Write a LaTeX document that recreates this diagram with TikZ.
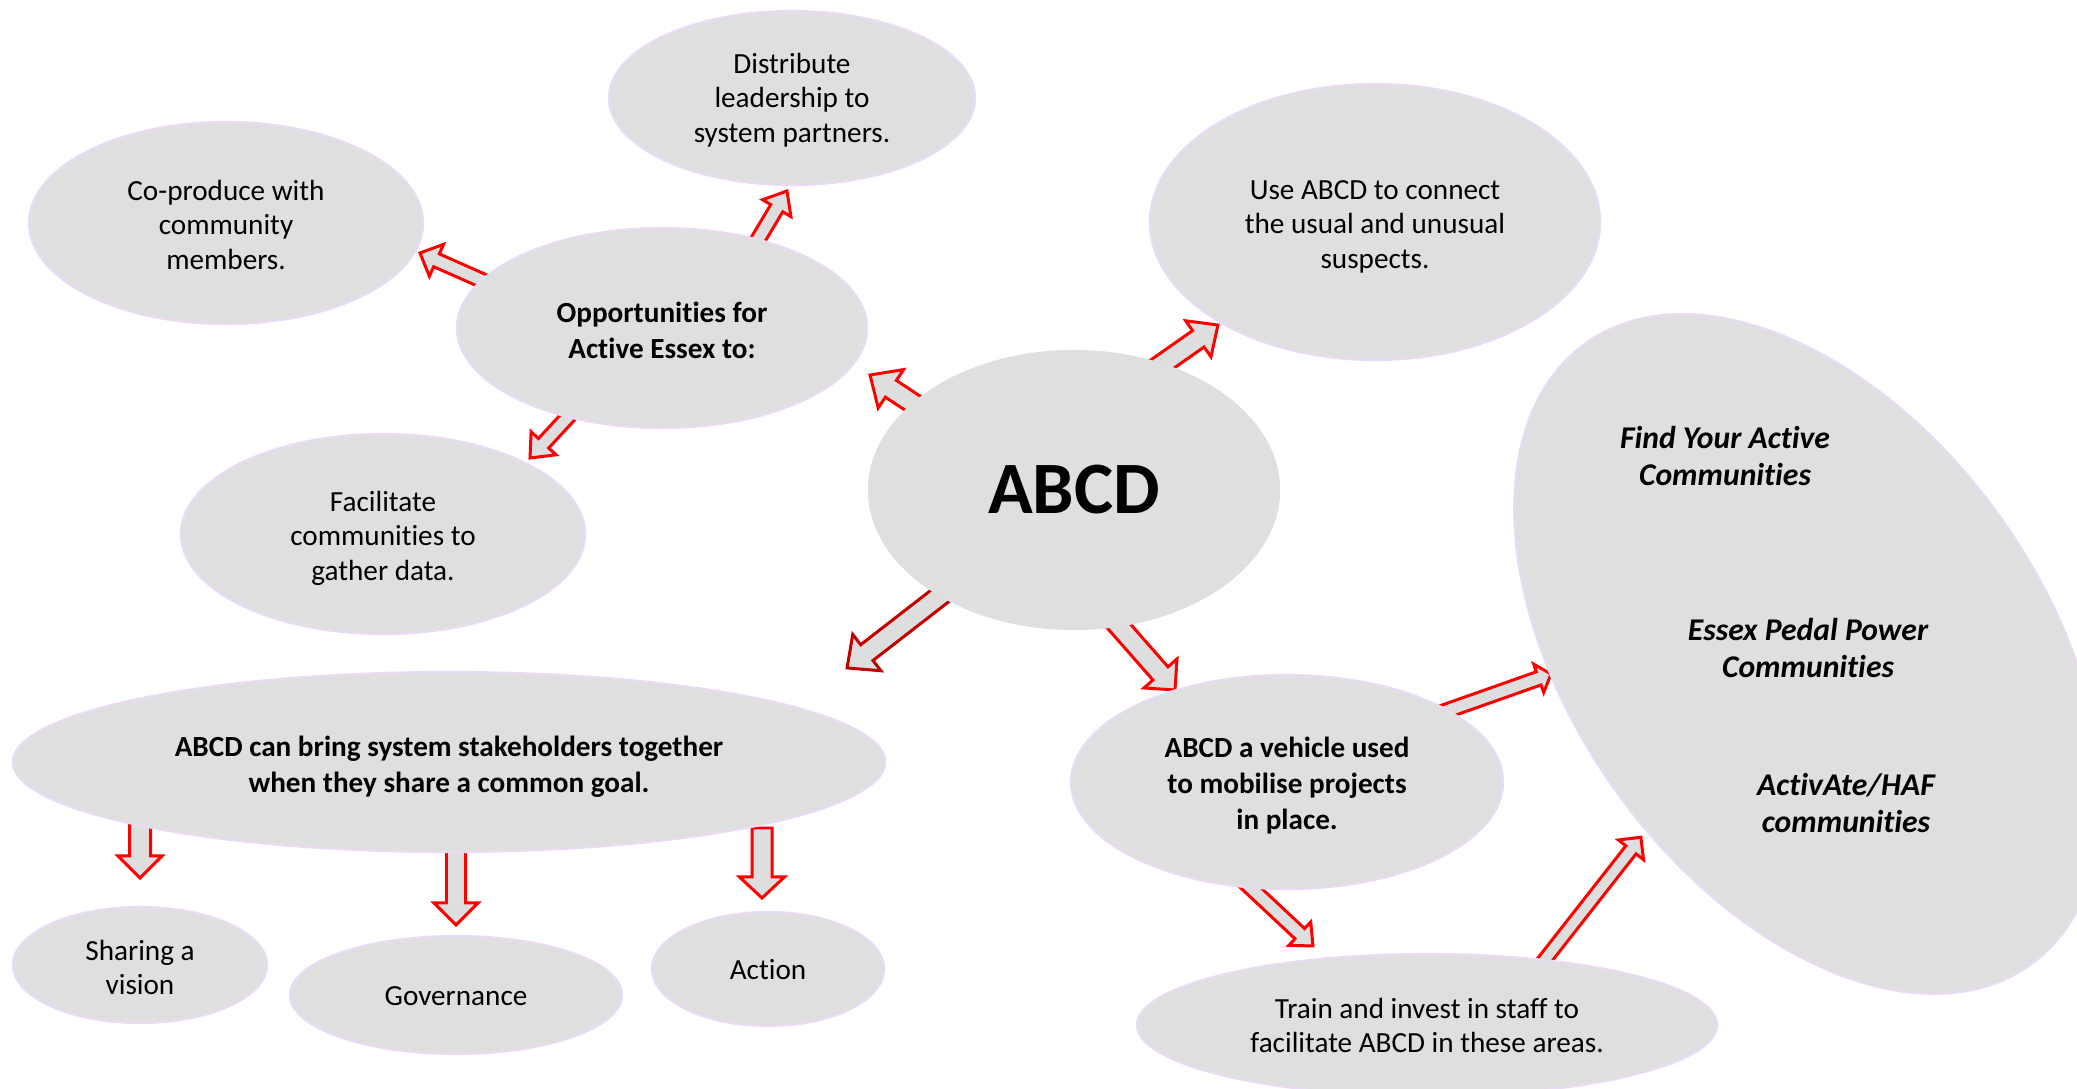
\documentclass[tikz,border=0pt]{standalone}
\usepackage{fontspec}
\setmainfont[Ligatures=NoCommon]{Carlito}
\usetikzlibrary{shapes.geometric,calc,backgrounds}
\definecolor{bubfill}{RGB}{223,223,223}
\definecolor{bubline}{RGB}{233,219,244}
\definecolor{arrfill}{RGB}{222,222,222}
\definecolor{darkred}{RGB}{192,0,0}
\def\pxu{0.28453pt}
\newdimen\pxdim \pxdim=0.28453pt
% text block lowered by #1 px inside its node, keeping the box size
\newcommand\tx[2][3]{\raisebox{-#1\pxdim}[\height][\depth]{\begin{tabular}{@{}c@{}}#2\end{tabular}}}
% #1 style, #2 tail coordinate, #3 tip coordinate, #4 shaft half width, #5 head half width, #6 head length (px)
\newcommand\blockarrow[6]{%
  \path let \p1=(#2), \p2=(#3) in \pgfextra{%
    \pgfmathsetmacro\baAng{atan2(\y2-\y1,\x2-\x1)}%
    \pgfmathsetmacro\baLen{veclen(\x2-\x1,\y2-\y1)}%
    \xdef\baA{\baAng}\xdef\baL{\baLen}};
  \draw[#1,shift={(#2)},rotate=\baA]
    (0pt,-#4*\pxu) -- ({\baL pt-#6*\pxu},-#4*\pxu) -- ({\baL pt-#6*\pxu},-#5*\pxu)
    -- (\baL pt,0pt) -- ({\baL pt-#6*\pxu},#5*\pxu) -- ({\baL pt-#6*\pxu},#4*\pxu)
    -- (0pt,#4*\pxu) -- cycle;}
\tikzset{
  bub/.style={ellipse, fill=bubfill, draw=bubline, line width=0.6pt, inner sep=0pt,
    font=\fontsize{8.3}{9.9}\selectfont},
  bubb/.style={bub, font=\fontsize{8.3}{10.2}\selectfont\bfseries},
  bigtxt/.style={align=center, font=\fontsize{9}{10.7}\selectfont\bfseries\itshape},
  barr/.style={draw=red, fill=arrfill, line width=0.85pt, line join=miter},
  barrd/.style={barr, draw=darkred},
}
\begin{document}
\begin{tikzpicture}[x=0.01cm,y=-0.01cm]
\useasboundingbox (0,0) rectangle (2077,1089);
% bubbles
\node[bub, minimum width=3.66cm, minimum height=1.74cm] (distrib) at (792,98) {\tx[3]{Distribute\\leadership to\\system partners.}};
\node[bub, minimum width=3.94cm, minimum height=2.02cm] (coprod) at (226,223) {\tx[5]{Co-produce with\\community\\members.}};
\node[bubb, minimum width=4.10cm, minimum height=2.00cm] (opp) at (662,328) {\tx[5.5]{Opportunities for\\Active Essex to:}};
\node[bub, minimum width=4.50cm, minimum height=2.76cm] (use) at (1375,222) {\tx[5]{Use ABCD to connect\\the usual and unusual\\suspects.}};
\node[ellipse, fill=bubfill, inner sep=0pt, minimum width=4.12cm, minimum height=2.80cm,
  font=\fontsize{21}{24}\selectfont\bfseries] (abcd) at (1074,490) {ABCD};
\node[bub, minimum width=4.04cm, minimum height=2.00cm] (facil) at (383,534) {\tx[5]{Facilitate\\communities to\\gather data.}};
\node[bubb, minimum width=8.72cm, minimum height=1.80cm] (bring) at (449,762) {\tx[5]{ABCD can bring system stakeholders together\\when they share a common goal.}};
\node[bubb, minimum width=4.32cm, minimum height=2.14cm] (vehicle) at (1287,782) {\tx[4]{ABCD a vehicle used\\to mobilise projects\\in place.}};
\node[bub, minimum width=2.54cm, minimum height=1.16cm] (share) at (140,965) {\tx[5.5]{Sharing a\\vision}};
\node[bub, minimum width=3.32cm, minimum height=1.18cm] (gov) at (456,995) {\tx[3.5]{Governance}};
\node[bub, minimum width=2.32cm, minimum height=1.14cm] (action) at (768,969) {\tx[4]{Action}};
\node[bub, minimum width=5.80cm, minimum height=1.42cm] (train) at (1427,1025) {\tx[3.5]{Train and invest in staff to\\facilitate ABCD in these areas.}};
% big rotated ellipse
\coordinate (big) at (1808,654);
\draw[fill=bubfill, draw=bubline, line width=0.6pt, shift={(big)}, rotate=-54.4]
  (0,0) ellipse [x radius=3.82cm, y radius=2.36cm];
\node[bigtxt] (fyac) at (1725,456) {Find Your Active\\Communities};
\node[bigtxt] (eppc) at (1808,648) {Essex Pedal Power\\Communities};
\node[bigtxt] (haf) at (1846,803) {ActivAte/HAF\\communities};
% arrow end points
\coordinate (a1s) at (499,288);  \coordinate (a1e) at (420,253);
\coordinate (a2s) at (750,253);  \coordinate (a2e) at (787,191);
\coordinate (a3s) at (578,406);  \coordinate (a3e) at (530,458);
\coordinate (a4s) at (929,414);  \coordinate (a4e) at (870,375);
\coordinate (a5s) at (1151,372); \coordinate (a5e) at (1218,325);
\coordinate (a6s) at (954,585);  \coordinate (a6e) at (847,668);
\coordinate (a7s) at (1110,616); \coordinate (a7e) at (1175,690);
\coordinate (a8s) at (1236,874); \coordinate (a8e) at (1313,946);
\coordinate (a9s) at (1432,716); \coordinate (a9e) at (1551,674);
\coordinate (a10s) at (1532,976); \coordinate (a10e) at (1641,837);
\coordinate (a11s) at (140,810); \coordinate (a11e) at (140,878);
\coordinate (a12s) at (456,840); \coordinate (a12e) at (456,925);
\coordinate (a13s) at (762,828); \coordinate (a13e) at (762,898);
\begin{pgfonlayer}{background}
\blockarrow{barr}{a1s}{a1e}{7}{17.5}{18}
\blockarrow{barr}{a2s}{a2e}{7}{16.5}{20}
\blockarrow{barr}{a3s}{a3e}{7}{17}{20}
\blockarrow{barr}{a4s}{a4e}{10}{23}{25}
\blockarrow{barr}{a5s}{a5e}{10}{22}{24}
\blockarrow{barrd}{a6s}{a6e}{10}{23}{25}
\blockarrow{barr}{a7s}{a7e}{10}{22}{22}
\blockarrow{barr}{a8s}{a8e}{7}{16}{18}
\blockarrow{barr}{a9s}{a9e}{7}{15}{13}
\blockarrow{barr}{a10s}{a10e}{6.5}{16}{16}
\blockarrow{barr}{a11s}{a11e}{10.5}{22}{22}
\blockarrow{barr}{a12s}{a12e}{9.5}{22}{22}
\blockarrow{barr}{a13s}{a13e}{10}{22.5}{21}
\end{pgfonlayer}
\end{tikzpicture}
\end{document}
